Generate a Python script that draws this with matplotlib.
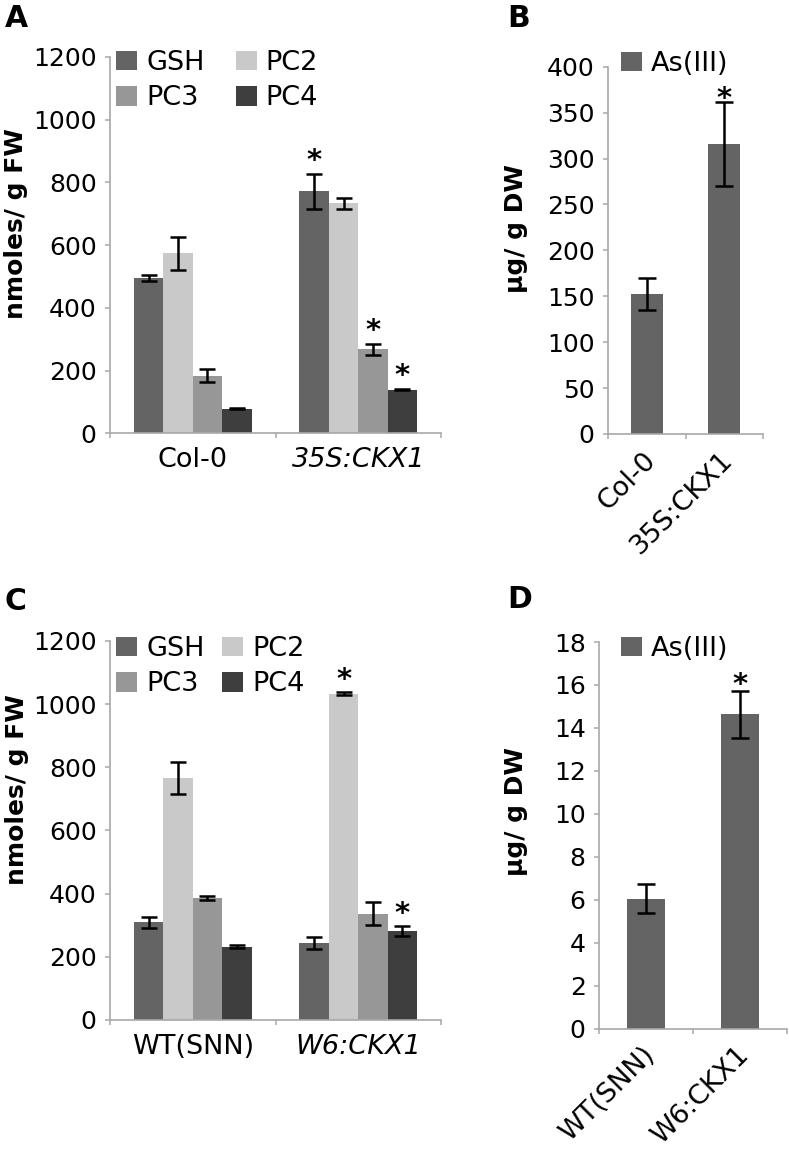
import matplotlib
matplotlib.use("Agg")
import matplotlib.pyplot as plt
import numpy as np
from matplotlib.transforms import ScaledTranslation

plt.rcParams['font.family'] = ['DejaVu Sans']

W, H = 789, 1150

# ---------------- data ----------------
# Panel A
a_groups = ['Col-0', '35S:CKX1']
a_series = ['GSH', 'PC2', 'PC3', 'PC4']
a_gsh = [495, 772]
a_gsh_err = [10, 56]
a_pc2 = [574, 733]
a_pc2_err = [52, 18]
a_pc3 = [183, 268]
a_pc3_err = [21, 17]
a_pc4 = [79, 139]
a_pc4_err = [2, 2]
a_sig = [[False, True], [False, False], [False, True], [False, True]]
a_yticks = [0, 200, 400, 600, 800, 1000, 1200]

# Panel B
b_groups = ['Col-0', '35S:CKX1']
b_as = [152, 316]
b_as_err = [17.5, 46]
b_sig = [False, True]
b_yticks = [0, 50, 100, 150, 200, 250, 300, 350, 400]

# Panel C
c_groups = ['WT(SNN)', 'W6:CKX1']
c_series = ['GSH', 'PC2', 'PC3', 'PC4']
c_gsh = [309, 243]
c_gsh_err = [17, 19]
c_pc2 = [766, 1033]
c_pc2_err = [50, 4]
c_pc3 = [385, 336]
c_pc3_err = [7, 36]
c_pc4 = [232, 281]
c_pc4_err = [5, 15]
c_sig = [[False, False], [False, True], [False, False], [False, True]]
c_yticks = [0, 200, 400, 600, 800, 1000, 1200]

# Panel D
d_groups = ['WT(SNN)', 'W6:CKX1']
d_as = [6.05, 14.63]
d_as_err = [0.68, 1.1]
d_sig = [False, True]
d_yticks = [0, 2, 4, 6, 8, 10, 12, 14, 16, 18]

series_colors = ['#646464', '#c9c9c9', '#979797', '#3e3e3e']
as_color = '#646464'
spine_color = '#a8a8a8'

fig = plt.figure(figsize=(W / 100, H / 100), dpi=100)


def px_axes(x0, x1, ytop, ybot):
    return fig.add_axes([x0 / W, 1 - ybot / H, (x1 - x0) / W, (ybot - ytop) / H])


def style_axes(ax, yticks, ylabel, label_xy):
    ax.set_xlim(-0.5, 1.5)
    ax.set_ylim(yticks[0], yticks[-1])
    ax.set_yticks(yticks)
    for s in ['top', 'right']:
        ax.spines[s].set_visible(False)
    for s in ['left', 'bottom']:
        ax.spines[s].set_color(spine_color)
        ax.spines[s].set_linewidth(1.2)
    ax.tick_params(axis='y', colors=spine_color, length=3.6, width=1.1,
                   labelcolor='black', labelsize=18, pad=6)
    ax.set_xticks([0, 1])
    ax.set_xticks([-0.5, 0.5, 1.5], minor=True)
    ax.tick_params(axis='x', which='major', length=0, labelsize=19.5,
                   labelcolor='black')
    ax.tick_params(axis='x', which='minor', length=3.8, width=1.1,
                   colors=spine_color)
    ax.set_ylabel(ylabel, fontsize=18, fontweight='bold')
    ax.yaxis.label.set_va('center')
    ax.yaxis.set_label_coords(label_xy[0] / W, 1 - label_xy[1] / H,
                              transform=fig.transFigure)


def star(ax, xi, top, star_off):
    ax.annotate('*', (xi, top), xytext=(0, star_off),
                textcoords='offset points', ha='center',
                va='baseline', fontsize=21, fontweight='bold', zorder=4)


def grouped(ax, names, vals_list, errs_list, sigs, width, star_off):
    x = np.arange(2)
    n = len(vals_list)
    handles = []
    for i, (name, vals, errs, sg) in enumerate(zip(names, vals_list, errs_list, sigs)):
        xs = x + (i - (n - 1) / 2) * width
        b = ax.bar(xs, vals, width, color=series_colors[i], label=name, zorder=2)
        handles.append(b)
        ax.errorbar(xs, vals, yerr=errs, fmt='none', ecolor='black',
                    elinewidth=1.8, capsize=5.5, capthick=1.8, zorder=3)
        for xi, v, e, s in zip(xs, vals, errs, sg):
            if s:
                star(ax, xi, v + e, star_off)
    return handles


def single(ax, vals, errs, sig, width, star_off):
    x = np.arange(2)
    b = ax.bar(x, vals, width, color=as_color, label='As(III)', zorder=2)
    ax.errorbar(x, vals, yerr=errs, fmt='none', ecolor='black',
                elinewidth=1.8, capsize=6.5, capthick=1.8, zorder=3)
    for xi, v, e, s in zip(x, vals, errs, sig):
        if s:
            star(ax, xi, v + e, star_off)
    return b


def legend4(ax, handles, names, anchor_px, colspace):
    order = [0, 2, 1, 3]
    ax.legend([handles[i] for i in order], [names[i] for i in order], ncol=2,
              loc='upper left',
              bbox_to_anchor=(anchor_px[0] / W, 1 - anchor_px[1] / H),
              bbox_transform=fig.transFigure, frameon=False, fontsize=19.5,
              handlelength=0.78, handleheight=0.74, handletextpad=0.33,
              columnspacing=colspace, labelspacing=0.35, borderpad=0,
              borderaxespad=0)


def legend1(ax, handle, anchor_px):
    ax.legend([handle], ['As(III)'], loc='upper left',
              bbox_to_anchor=(anchor_px[0] / W, 1 - anchor_px[1] / H),
              bbox_transform=fig.transFigure, frameon=False, fontsize=19.5,
              handlelength=0.78, handleheight=0.74, handletextpad=0.33,
              borderpad=0, borderaxespad=0)


def straight_xlabels(ax, groups, italic_flags):
    ax.set_xticklabels(groups)
    for lab, it in zip(ax.get_xticklabels(), italic_flags):
        lab.set_fontstyle('italic' if it else 'normal')
    ax.tick_params(axis='x', which='major', pad=10)


def rotated_xlabels(ax, groups):
    ax.set_xticklabels(groups, rotation=45, ha='right', va='center',
                       rotation_mode='anchor')
    ax.tick_params(axis='x', which='major', pad=16)
    off = ScaledTranslation(5 / 100, 0, fig.dpi_scale_trans)
    for lab in ax.get_xticklabels():
        lab.set_transform(lab.get_transform() + off)


# ---------------- Panel A ----------------
axA = px_axes(110, 441, 57, 433.3)
style_axes(axA, a_yticks, 'nmoles/ g FW', (16, 224))
hA = grouped(axA, a_series, [a_gsh, a_pc2, a_pc3, a_pc4],
             [a_gsh_err, a_pc2_err, a_pc3_err, a_pc4_err], a_sig, 0.178, 3.4)
legend4(axA, hA, a_series, (116, 50), 1.15)
straight_xlabels(axA, a_groups, [False, True])

# ---------------- Panel B ----------------
axB = px_axes(608, 763, 66.8, 433.9)
style_axes(axB, b_yticks, 'μg/ g DW', (515.5, 228.5))
hB = single(axB, b_as, b_as_err, b_sig, 0.41, -4)
legend1(axB, hB, (621, 51))
rotated_xlabels(axB, b_groups)

# ---------------- Panel C ----------------
axC = px_axes(110, 441, 640.9, 1019.8)
style_axes(axC, c_yticks, 'nmoles/ g FW', (17, 789.6))
hC = grouped(axC, c_series, [c_gsh, c_pc2, c_pc3, c_pc4],
             [c_gsh_err, c_pc2_err, c_pc3_err, c_pc4_err], c_sig, 0.178, 3)
legend4(axC, hC, c_series, (116, 636), 0.65)
straight_xlabels(axC, c_groups, [False, True])

# ---------------- Panel D ----------------
axD = px_axes(599, 786.7, 642, 1028.5)
style_axes(axD, d_yticks, 'μg/ g DW', (516, 812))
hD = single(axD, d_as, d_as_err, d_sig, 0.40, -1.5)
legend1(axD, hD, (621, 636))
rotated_xlabels(axD, d_groups)

# ---------------- panel letters ----------------
for letter, (lx, ly) in {'A': (5, 4), 'B': (507, 4), 'C': (5, 587),
                         'D': (507, 585)}.items():
    fig.text(lx / W, 1 - ly / H, letter, ha='left', va='top',
             fontsize=21.5, fontweight='bold')

fig.savefig('out.png', dpi=100)
